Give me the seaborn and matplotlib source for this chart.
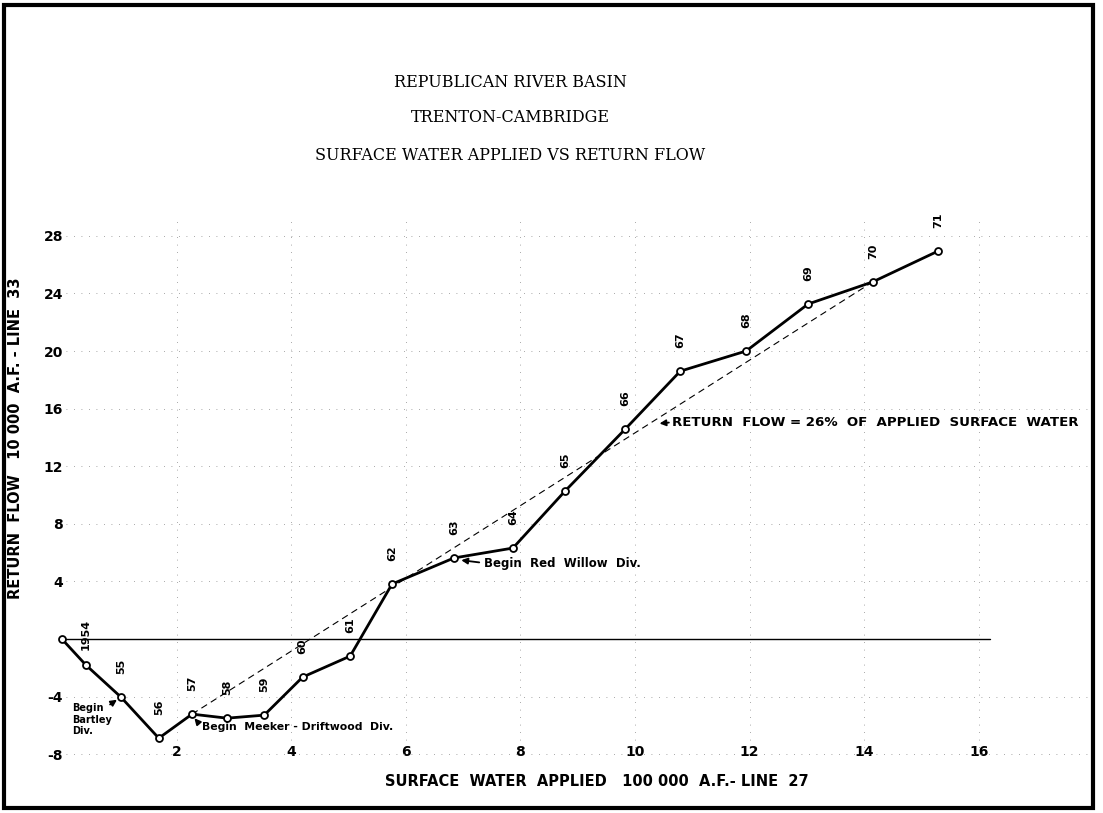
#!/usr/bin/env python3
# coding=utf-8
import matplotlib
matplotlib.use('Agg')
import matplotlib.pyplot as plt
from matplotlib.patches import Rectangle
import pandas as pd
import seaborn as sns

# cumulative surface water applied (100 000 A.F.) vs cumulative return flow (10 000 A.F.)
applied = [0.0, 0.42, 1.03, 1.69, 2.27, 2.88, 3.53, 4.20, 5.03, 5.76, 6.84,
           7.87, 8.78, 9.83, 10.79, 11.94, 13.02, 14.15, 15.29]
returned = [0.0, -1.81, -4.03, -6.88, -5.21, -5.49, -5.28, -2.64, -1.18, 3.82, 5.63,
            6.32, 10.28, 14.58, 18.60, 20.00, 23.26, 24.80, 26.94]
years = ['', '1954', '55', '56', '57', '58', '59', '60', '61', '62', '63',
         '64', '65', '66', '67', '68', '69', '70', '71']

# 26% line
fit_x = [2.27, 14.15]
fit_y = [-5.21, 24.80]

# zero reference line
zero_x = [0.0, 16.2]
zero_y = [0.0, 0.0]

xticks = [2, 4, 6, 8, 10, 12, 14, 16]
xtick_labels = ['2', '4', '6', '8', '10', '12', '14', '16']
yticks = [-8, -4, 4, 8, 12, 16, 20, 24, 28]
ytick_labels = ['-8', '-4', '4', '8', '12', '16', '20', '24', '28']

titles = ['REPUBLICAN RIVER BASIN', 'TRENTON-CAMBRIDGE',
          'SURFACE WATER APPLIED VS RETURN FLOW']


def main():
    sns.set_style('white')
    plt.rcParams['axes.unicode_minus'] = False
    plt.rcParams['text.color'] = 'black'
    plt.rcParams['axes.labelcolor'] = 'black'
    plt.rcParams['xtick.color'] = 'black'
    plt.rcParams['ytick.color'] = 'black'

    df = pd.DataFrame({'applied': applied, 'returned': returned, 'year': years})
    fit = pd.DataFrame({'x': fit_x, 'y': fit_y})
    zero = pd.DataFrame({'x': zero_x, 'y': zero_y})

    fig = plt.figure(figsize=(11.03, 8.13), dpi=100)
    ax = fig.add_axes([0.0598, 0.0713, 0.9284, 0.6642])

    sns.lineplot(data=zero, x='x', y='y', ax=ax, color='black', linewidth=1.0)
    sns.lineplot(data=fit, x='x', y='y', ax=ax, color='black', linewidth=0.8,
                 linestyle=(0, (6, 4)))
    sns.lineplot(data=df, x='applied', y='returned', ax=ax, sort=False,
                 color='black', linewidth=2.0, marker='o', markersize=5,
                 markerfacecolor='white', markeredgecolor='black',
                 markeredgewidth=1.3)
    for line in ax.get_lines():
        line.set_clip_on(False)

    for xv, yv, lab in zip(df['applied'], df['returned'], df['year']):
        if lab:
            ax.annotate(lab, (xv, yv), xytext=(0, 22), textcoords='offset points',
                        rotation=90, ha='center', va='center', fontsize=8,
                        fontweight='bold')

    bold = dict(fontweight='bold', family='DejaVu Sans')
    arrow = dict(arrowstyle='-|>', color='black', lw=1.3, mutation_scale=9)
    ax.text(0.17, -4.44, 'Begin\nBartley\nDiv.', fontsize=7, va='top',
            ha='left', linespacing=1.2, **bold)
    ax.annotate('', xy=(1.0, -4.1), xytext=(0.80, -4.65), arrowprops=arrow)
    ax.text(2.44, -6.11, 'Begin  Meeker - Driftwood  Div.', fontsize=7.8,
            va='center', ha='left', **bold)
    ax.annotate('', xy=(2.28, -5.35), xytext=(2.42, -6.0), arrowprops=arrow)
    ax.text(7.36, 5.28, 'Begin  Red  Willow  Div.', fontsize=8.5,
            va='center', ha='left', **bold)
    ax.annotate('', xy=(6.92, 5.5), xytext=(7.33, 5.3), arrowprops=arrow)
    ax.text(10.65, 15.07, 'RETURN  FLOW = 26%  OF  APPLIED  SURFACE  WATER',
            fontsize=9.6, va='center', ha='left', **bold)
    ax.annotate('', xy=(10.38, 14.95), xytext=(10.64, 15.05), arrowprops=arrow)

    ax.set_xlim(0.07, 17.94)
    ax.set_ylim(-8.05, 29.44)
    ax.set_xticks(xticks)
    ax.set_xticklabels(xtick_labels, fontsize=10, fontweight='bold')
    ax.set_yticks(yticks)
    ax.set_yticklabels(ytick_labels, fontsize=10, fontweight='bold')
    ax.tick_params(axis='x', length=0, pad=-7)
    ax.tick_params(axis='y', length=0, pad=2)
    for s in ax.spines.values():
        s.set_visible(False)
    ax.grid(True, color='0.55', linestyle=(0, (1, 8)), linewidth=0.6)

    ax.set_xlabel('SURFACE  WATER  APPLIED   100 000  A.F.- LINE  27',
                  fontsize=10.5, fontweight='bold')
    ax.set_ylabel('RETURN  FLOW   10 000  A.F. - LINE  33',
                  fontsize=10.5, fontweight='bold')
    ax.xaxis.set_label_coords(0.5186, -0.035)
    ax.yaxis.set_label_coords(-0.042, 0.587)

    for t, yy in zip(titles, [0.899, 0.855, 0.809]):
        fig.text(0.4624, yy, t, ha='center', va='center', fontsize=11.5,
                 family='DejaVu Serif')

    fig.add_artist(Rectangle((4 / 1103, 5 / 813), 1089 / 1103, 803 / 813,
                             transform=fig.transFigure, fill=False,
                             edgecolor='black', linewidth=3))

    fig.savefig('out.png', dpi=100)
    plt.close('all')


if __name__ == '__main__':
    main()
